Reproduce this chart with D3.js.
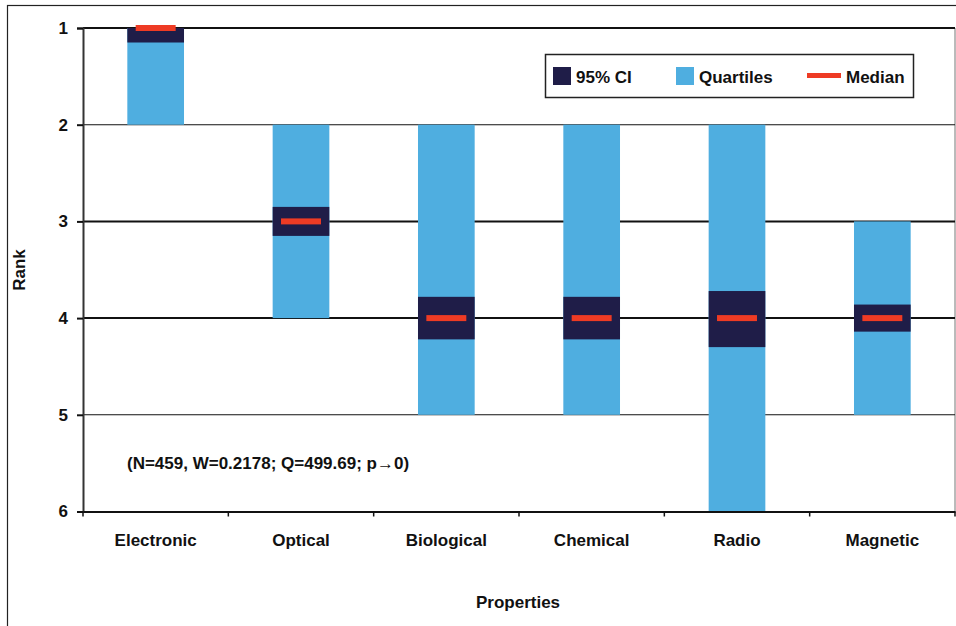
<!DOCTYPE html>
<html><head><meta charset="utf-8">
<script src="https://cdn.jsdelivr.net/npm/d3@7"></script>
<style>body{margin:0;background:#fff}svg{display:block}text{font-family:"Liberation Sans",Arial,sans-serif;font-weight:bold;fill:#111}</style>
</head><body><svg id="c" width="956" height="626"></svg>
<script>
const categories = ["Electronic","Optical","Biological","Chemical","Radio","Magnetic"];
const q1 = [1, 2, 2, 2, 2, 3];
const q3 = [2, 4, 5, 5, 6, 5];
const ciLow = [1, 2.85, 3.78, 3.78, 3.72, 3.86];
const ciHigh = [1.15, 3.15, 4.22, 4.22, 4.30, 4.14];
const medians = [1, 3, 4, 4, 4, 4];
const yTicks = [1, 2, 3, 4, 5, 6];
const thickGrid = [1, 3, 4, 6];
const legendLabels = ["95% CI", "Quartiles", "Median"];
const note = "(N=459, W=0.2178; Q=499.69; p\u21920)";

const C_CI = "#1f1d48", C_Q = "#4faee0", C_MED = "#ee3b24";
const svg = d3.select("#c");
const L = 83, R = 955, T = 28, B = 511.5;

// outer frame
svg.append("rect").attr("x",7.5).attr("y",5.5).attr("width",1000).attr("height",1000)
  .attr("fill","none").attr("stroke","#222").attr("stroke-width",1.2);

const x = d3.scaleBand().domain(categories).range([L, R]).paddingInner(0).paddingOuter(0);
const y = d3.scaleLinear().domain([1, 6]).range([T, B]);
const bw = x.bandwidth() * 0.39;
const mw = x.bandwidth() * 0.275;

// right border of plot
svg.append("line").attr("x1",R).attr("x2",R).attr("y1",T).attr("y2",B).attr("stroke","#777").attr("stroke-width",1);

// gridlines
svg.append("g").selectAll("line").data(yTicks.slice(0,5)).join("line")
  .attr("x1",L).attr("x2",R).attr("y1",d=>y(d)).attr("y2",d=>y(d))
  .attr("stroke","#111").attr("stroke-width",d=>thickGrid.includes(d)?2:1.1);

const idx = d3.range(categories.length);
const g = svg.append("g");
g.selectAll("rect.q").data(idx).join("rect").attr("class","q")
  .attr("x",i=>x(categories[i]) + (x.bandwidth()-bw)/2).attr("width",bw)
  .attr("y",i=>y(q1[i])).attr("height",i=>y(q3[i])-y(q1[i])).attr("fill",C_Q);
g.selectAll("rect.ci").data(idx).join("rect").attr("class","ci")
  .attr("x",i=>x(categories[i]) + (x.bandwidth()-bw)/2).attr("width",bw)
  .attr("y",i=>y(ciLow[i])).attr("height",i=>y(ciHigh[i])-y(ciLow[i])).attr("fill",C_CI);
g.selectAll("rect.m").data(idx).join("rect").attr("class","m")
  .attr("x",i=>x(categories[i]) + (x.bandwidth()-mw)/2).attr("width",mw)
  .attr("y",i=>y(medians[i])-3).attr("height",6).attr("fill",C_MED);

// y axis
const ya = svg.append("g").attr("transform",`translate(${L},0)`)
  .call(d3.axisLeft(y).tickValues(yTicks).tickFormat(d3.format("d")).tickSize(6).tickPadding(9));
ya.select(".domain").attr("stroke","#333").attr("stroke-width",2);
ya.selectAll(".tick line").attr("stroke","#111").attr("stroke-width",2);
ya.selectAll("text").style("font-size","17px").style("font-weight","bold").attr("fill","#111");

// x axis
const xa = svg.append("g").attr("transform",`translate(0,${B})`)
  .call(d3.axisBottom(x).tickSize(0).tickPadding(22));
xa.select(".domain").attr("stroke","#111").attr("stroke-width",2);
xa.selectAll("text").style("font-size","17px").style("font-weight","bold").attr("fill","#111");
const bounds = categories.map(c=>x(c)).concat([R]);
svg.append("g").selectAll("line").data(bounds).join("line")
  .attr("x1",d=>d).attr("x2",d=>d).attr("y1",B).attr("y2",B+5).attr("stroke","#111").attr("stroke-width",1.5);

// axis titles
svg.append("text").attr("transform","translate(25,270) rotate(-90)").attr("text-anchor","middle")
  .style("font-size","17px").text("Rank");
svg.append("text").attr("x",518).attr("y",608).attr("text-anchor","middle").style("font-size","17px").text("Properties");

// note
svg.append("text").attr("x",127).attr("y",469).style("font-size","17px").text(note);

// legend
const lg = svg.append("g");
lg.append("rect").attr("x",545.5).attr("y",54.5).attr("width",368).attr("height",43)
  .attr("fill","#fff").attr("stroke","#222").attr("stroke-width",1.5);
const lx = [553, 676, 807];
lg.append("rect").attr("x",lx[0]).attr("y",67).attr("width",18).attr("height",18).attr("fill",C_CI);
lg.append("rect").attr("x",lx[1]).attr("y",67).attr("width",18).attr("height",18).attr("fill",C_Q);
lg.append("rect").attr("x",lx[2]).attr("y",73).attr("width",34).attr("height",5).attr("fill",C_MED);
const tx = [576, 699, 846];
lg.selectAll("text").data(legendLabels).join("text").attr("x",(d,i)=>tx[i]).attr("y",83)
  .style("font-size","17px").text(d=>d);
</script></body></html>
